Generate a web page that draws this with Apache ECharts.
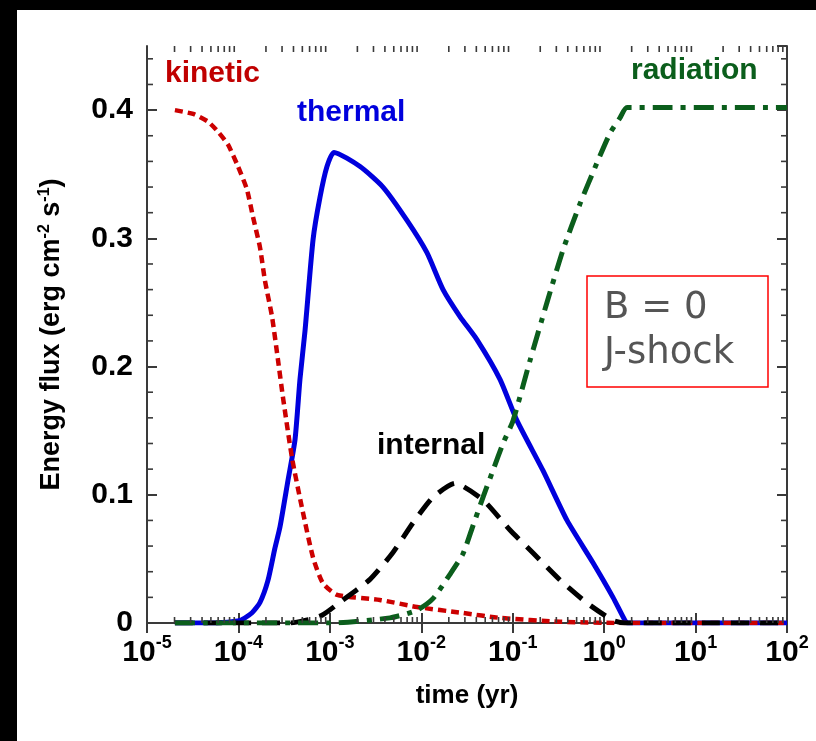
<!DOCTYPE html>
<html>
<head>
<meta charset="utf-8">
<script src="https://cdn.jsdelivr.net/npm/echarts@6/dist/echarts.min.js"></script>
<style>
  html, body { margin: 0; padding: 0; background: #fff; }
  #chart { width: 816px; height: 741px; }
</style>
</head>
<body>
<div id="chart"></div>
<script>
// Energy flux components versus time after the shock (B = 0, J-shock)
const kineticT = [2.02e-5, 3.2e-5, 4.65e-5, 6.0e-5, 7.7e-5, 9.9e-5, 1.24e-4, 1.44e-4, 1.72e-4, 1.95e-4, 2.33e-4, 2.71e-4, 3.07e-4, 3.85e-4, 4.95e-4, 6.55e-4, 8.4e-4, 1.2e-3, 3.53e-3, 8.97e-3, 2.86e-2, 7.26e-2, 0.329, 1.49, 100];
const kineticE = [0.400, 0.397, 0.391, 0.383, 0.373, 0.356, 0.338, 0.317, 0.293, 0.267, 0.239, 0.205, 0.176, 0.129, 0.090, 0.051, 0.031, 0.022, 0.018, 0.0125, 0.0078, 0.004, 0.001, 0, 0];

const thermalT = [2.02e-5, 5.5e-5, 1.04e-4, 1.41e-4, 1.72e-4, 2.1e-4, 2.5e-4, 2.85e-4, 3.48e-4, 4.16e-4, 4.71e-4, 5.35e-4, 6.55e-4, 7.8e-4, 9.3e-4, 1.11e-3, 2.14e-3, 3.81e-3, 6.98e-3, 1.15e-2, 1.73e-2, 2.65e-2, 4.06e-2, 7.26e-2, 0.111, 0.214, 0.393, 0.755, 1.25, 1.69, 1.82, 100];
const thermalE = [0, 0, 0.002, 0.008, 0.016, 0.033, 0.058, 0.075, 0.111, 0.143, 0.190, 0.228, 0.299, 0.332, 0.356, 0.367, 0.356, 0.340, 0.314, 0.289, 0.260, 0.239, 0.221, 0.190, 0.158, 0.119, 0.080, 0.047, 0.020, 0.002, 0, 0];

const internalT = [2.02e-5, 3.66e-4, 5.35e-4, 8.2e-4, 1.39e-3, 2.75e-3, 4.9e-3, 8.1e-3, 1.34e-2, 2.34e-2, 4.73e-2, 9.33e-2, 0.167, 0.329, 0.649, 1.25, 1.69, 100];
const internalE = [0, 0, 0.002, 0.006, 0.018, 0.034, 0.055, 0.078, 0.098, 0.109, 0.096, 0.0725, 0.0546, 0.0335, 0.0156, 0.002, 0, 0];

const radiationT = [2.02e-5, 1.0e-3, 4.55e-3, 8.97e-3, 1.34e-2, 2.06e-2, 2.86e-2, 3.68e-2, 4.73e-2, 6.08e-2, 7.83e-2, 0.101, 0.155, 0.237, 0.355, 0.545, 0.836, 1.16, 1.49, 1.78, 100];
const radiationE = [0, 0, 0.004, 0.010, 0.019, 0.038, 0.054, 0.076, 0.098, 0.119, 0.140, 0.158, 0.205, 0.250, 0.291, 0.327, 0.359, 0.382, 0.394, 0.402, 0.402];

// axis ranges and ticks
const xMin = 1e-5, xMax = 100;
const yMin = 0, yMax = 0.45, yStep = 0.1;
const yTickLabels = ['0', '0.1', '0.2', '0.3', '0.4'];
const decades = [-5, -4, -3, -2, -1, 0, 1];
const minorMantissas = [2, 3, 4, 5, 6, 7, 8, 9];
const yMinorTicks = [0.02, 0.04, 0.06, 0.08, 0.12, 0.14, 0.16, 0.18, 0.22, 0.24, 0.26, 0.28, 0.32, 0.34, 0.36, 0.38, 0.42, 0.44];

const xMinorTicks = [];
decades.forEach(d => minorMantissas.forEach(m => xMinorTicks.push(m * Math.pow(10, d))));

const pairs = (t, e) => t.map((v, i) => [v, e[i]]);

const AXIS_COLOR = '#3a3a3a';
const BOLD = 'Liberation Sans, Arial, Helvetica, sans-serif';

const chart = echarts.init(document.getElementById('chart'), null, { renderer: 'canvas' });

const axisLineStyle = { show: true, lineStyle: { color: AXIS_COLOR, width: 2 } };
const tickStyle = { show: true, inside: true, length: 10, lineStyle: { color: AXIS_COLOR, width: 2 } };

function lineSeries(name, t, e, color, width, dash, z) {
  return {
    name, type: 'line', data: pairs(t, e), showSymbol: false, symbol: 'none',
    smooth: 0.2, z,
    lineStyle: { color, width, type: dash, cap: 'butt', join: 'round' },
    animation: false, silent: true
  };
}

chart.setOption({
  backgroundColor: '#fff',
  animation: false,
  grid: { left: 147, right: 29, top: 46, bottom: 118, containLabel: false },
  xAxis: [
    {
      type: 'log', logBase: 10, min: xMin, max: xMax, interval: 1,
      axisLine: axisLineStyle, axisTick: tickStyle, splitLine: { show: false },
      axisLabel: {
        margin: 11, color: '#000', fontFamily: BOLD, fontWeight: 'bold', fontSize: 30,
        formatter: v => '{b|10}{s|' + Math.round(Math.log10(v)) + '}',
        rich: {
          b: { fontSize: 30, fontWeight: 'bold', fontFamily: BOLD, color: '#000', lineHeight: 34, verticalAlign: 'bottom' },
          s: { fontSize: 18, fontWeight: 'bold', fontFamily: BOLD, color: '#000', lineHeight: 34, verticalAlign: 'top' }
        }
      },
      name: 'time (yr)', nameLocation: 'middle', nameGap: 60,
      nameTextStyle: { color: '#000', fontFamily: BOLD, fontWeight: 'bold', fontSize: 26, verticalAlign: 'top' }
    },
    {
      type: 'log', logBase: 10, min: xMin, max: xMax, interval: 1, position: 'top',
      axisLine: axisLineStyle, axisTick: tickStyle, axisLabel: { show: false }, splitLine: { show: false }
    }
  ],
  yAxis: [
    {
      type: 'value', min: yMin, max: yMax, interval: yStep,
      axisLine: axisLineStyle, axisTick: tickStyle, splitLine: { show: false },
      axisLabel: {
        margin: 14, color: '#000', fontFamily: BOLD, fontWeight: 'bold', fontSize: 30,
        showMaxLabel: false,
        formatter: v => {
          const i = Math.round(v / yStep);
          return (Math.abs(v - i * yStep) < 1e-9 && i < yTickLabels.length) ? yTickLabels[i] : '';
        }
      },
      name: 'Energy flux (erg cm{s|-2} s{s|-1})', nameLocation: 'middle', nameGap: 80, nameRotate: 90,
      nameTextStyle: {
        color: '#000', fontFamily: BOLD, fontWeight: 'bold', fontSize: 27,
        rich: {
          s: { fontSize: 16, fontWeight: 'bold', fontFamily: BOLD, color: '#000', verticalAlign: 'top', lineHeight: 30 }
        }
      }
    },
    {
      type: 'value', min: yMin, max: yMax, interval: yStep, position: 'right',
      axisLine: axisLineStyle, axisTick: tickStyle, axisLabel: { show: false }, splitLine: { show: false }
    }
  ],
  series: [
    lineSeries('thermal', thermalT, thermalE, '#0000dd', 5, 'solid', 2),
    lineSeries('kinetic', kineticT, kineticE, '#cc0000', 4.5, [8, 5], 3),
    lineSeries('internal', internalT, internalE, '#000000', 5, [18, 11], 4),
    lineSeries('radiation', radiationT, radiationE, '#0b5e1c', 5, [20, 8, 5, 8], 5),
    {
      // minor ticks on bottom and top log axes
      type: 'custom', silent: true, clip: false, z: 6,
      data: xMinorTicks.map(v => [v, 0]),
      renderItem(params, api) {
        const x = api.coord([api.value(0), 0])[0];
        const cs = params.coordSys;
        const st = { stroke: AXIS_COLOR, lineWidth: 1.6 };
        return { type: 'group', children: [
          { type: 'line', shape: { x1: x, y1: cs.y + cs.height, x2: x, y2: cs.y + cs.height - 6 }, style: st },
          { type: 'line', shape: { x1: x, y1: cs.y, x2: x, y2: cs.y + 6 }, style: st }
        ] };
      }
    },
    {
      // minor ticks on left and right value axes
      type: 'custom', silent: true, clip: false, z: 6,
      data: yMinorTicks.map(v => [1, v]),
      renderItem(params, api) {
        const y = api.coord([1, api.value(1)])[1];
        const cs = params.coordSys;
        const st = { stroke: AXIS_COLOR, lineWidth: 1.6 };
        return { type: 'group', children: [
          { type: 'line', shape: { x1: cs.x, y1: y, x2: cs.x + 6, y2: y }, style: st },
          { type: 'line', shape: { x1: cs.x + cs.width, y1: y, x2: cs.x + cs.width - 6, y2: y }, style: st }
        ] };
      }
    }
  ],
  graphic: [
    { type: 'rect', shape: { x: 0, y: 0, width: 816, height: 10 }, style: { fill: '#000' }, z: 100 },
    { type: 'rect', shape: { x: 0, y: 0, width: 17, height: 741 }, style: { fill: '#000' }, z: 100 },
    { type: 'text', left: 165, top: 59, style: { text: 'kinetic', fill: '#c00000', font: 'bold 30px ' + BOLD } },
    { type: 'text', left: 297, top: 98, style: { text: 'thermal', fill: '#0000dd', font: 'bold 30px ' + BOLD } },
    { type: 'text', left: 377, top: 431, style: { text: 'internal', fill: '#000', font: 'bold 30px ' + BOLD } },
    { type: 'text', left: 631, top: 56, style: { text: 'radiation', fill: '#0b5e1c', font: 'bold 30px ' + BOLD } },
    { type: 'rect', shape: { x: 587, y: 276, width: 181, height: 111 }, style: { fill: '#fff', stroke: '#ff0000', lineWidth: 1.5 }, z: 10 },
    { type: 'text', left: 604, top: 290, z: 11, style: { text: 'B = 0', fill: '#555', font: '37px DejaVu Sans, sans-serif' } },
    { type: 'text', left: 604, top: 335, z: 11, style: { text: 'J-shock', fill: '#555', font: '37px DejaVu Sans, sans-serif' } }
  ]
});
</script>
</body>
</html>
